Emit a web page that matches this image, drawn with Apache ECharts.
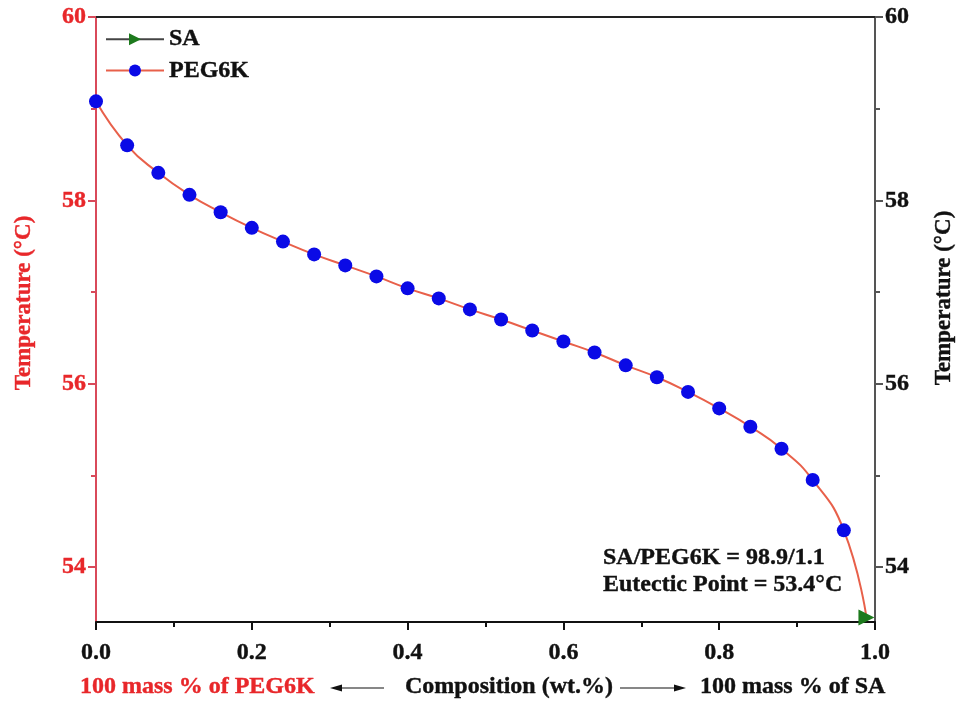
<!DOCTYPE html>
<html>
<head>
<meta charset="utf-8">
<script src="https://cdn.jsdelivr.net/npm/echarts@6/dist/echarts.min.js"></script>
<style>
html,body{margin:0;padding:0;background:#fff;}
#chart{width:963px;height:704px;}
</style>
</head>
<body>
<div id="chart"></div>
<script>
// ---- data ----
const compX = [0, 0.04, 0.08, 0.12, 0.16, 0.20, 0.24, 0.28, 0.32, 0.36, 0.40, 0.44, 0.48,
               0.52, 0.56, 0.60, 0.64, 0.68, 0.72, 0.76, 0.80, 0.84, 0.88, 0.92, 0.96];
const pegTemp = [59.08, 58.60, 58.30, 58.06, 57.87, 57.70, 57.55, 57.41, 57.29, 57.17, 57.04, 56.93, 56.81,
                 56.70, 56.58, 56.46, 56.34, 56.20, 56.07, 55.91, 55.73, 55.53, 55.29, 54.95, 54.40];
const eutecticX = [0.989];
const eutecticT = [53.45];
const yTicks = [54, 56, 58, 60];
const yMinorTicks = [55, 57, 59];
const seriesNames = ['SA', 'PEG6K'];
const annotationLines = ['SA/PEG6K = 98.9/1.1', 'Eutectic Point = 53.4°C'];

const FONT = '"Liberation Serif", "Times New Roman", serif';
const RED = '#e8272a';
const AXRED = '#d94a5a';

const pegData = compX.map((x, i) => [x, pegTemp[i]]);
pegData.push({ value: [eutecticX[0], eutecticT[0]], symbol: 'none' });
const saData = eutecticX.map((x, i) => [x, eutecticT[i]]);

const chart = echarts.init(document.getElementById('chart'), null, { renderer: 'canvas' });

const yBase = { type: 'value', min: 53.4, max: 60, splitLine: { show: false } };
const lbl = (color) => ({ fontFamily: FONT, fontWeight: 'bold', fontSize: 24, color: color,
                          textBorderColor: color, textBorderWidth: 0.4 });

chart.setOption({
  backgroundColor: '#fff',
  animation: false,
  grid: { left: 96, right: 88, top: 17, bottom: 82, containLabel: false },
  legend: {
    data: seriesNames,
    orient: 'vertical',
    left: 100, top: 22,
    itemWidth: 58, itemHeight: 15, itemGap: 7,
    textStyle: lbl('#111')
  },
  xAxis: [
    {
      type: 'value', min: 0, max: 1, interval: 0.2, position: 'bottom',
      axisLine: { show: true, onZero: false, lineStyle: { color: '#111', width: 2 } },
      axisTick: { show: true, inside: false, length: 8, lineStyle: { color: '#111', width: 2 } },
      minorTick: { show: true, splitNumber: 2, length: 5, lineStyle: { color: '#111', width: 2 } },
      axisLabel: Object.assign({ margin: 19, formatter: v => v.toFixed(1) }, lbl('#111')),
      splitLine: { show: false }
    },
    {
      type: 'value', min: 0, max: 1, position: 'top',
      axisLine: { show: true, onZero: false, lineStyle: { color: '#222', width: 2 } },
      axisTick: { show: false }, axisLabel: { show: false }, splitLine: { show: false }
    }
  ],
  yAxis: [
    Object.assign({}, yBase, {
      position: 'left',
      axisLine: { show: true, onZero: false, lineStyle: { color: AXRED, width: 2 } },
      axisTick: { show: true, length: 8, customValues: yTicks, lineStyle: { color: AXRED, width: 2 } },
      axisLabel: Object.assign({ margin: 10, customValues: yTicks }, lbl(RED))
    }),
    Object.assign({}, yBase, {
      position: 'right',
      axisLine: { show: true, onZero: false, lineStyle: { color: '#555', width: 2 } },
      axisTick: { show: true, length: 8, customValues: yTicks, lineStyle: { color: '#555', width: 2 } },
      axisLabel: Object.assign({ margin: 10, customValues: yTicks }, lbl('#111'))
    }),
    Object.assign({}, yBase, {
      position: 'left', offset: 0,
      axisLine: { show: false, onZero: false },
      axisTick: { show: true, length: 5, customValues: yMinorTicks, lineStyle: { color: AXRED, width: 2 } },
      axisLabel: { show: false }
    }),
    Object.assign({}, yBase, {
      position: 'right', offset: 0,
      axisLine: { show: false, onZero: false },
      axisTick: { show: true, length: 5, customValues: yMinorTicks, lineStyle: { color: '#555', width: 2 } },
      axisLabel: { show: false }
    })
  ],
  series: [
    {
      name: seriesNames[0], type: 'line', xAxisIndex: 0, yAxisIndex: 0,
      data: saData,
      symbol: 'triangle', symbolSize: 16, symbolRotate: -90,
      itemStyle: { color: '#1d7a1d' },
      lineStyle: { color: '#444', width: 2 },
      z: 5
    },
    {
      name: seriesNames[1], type: 'line', xAxisIndex: 0, yAxisIndex: 0,
      data: pegData,
      smooth: 0.5,
      symbol: 'circle', symbolSize: 14, showAllSymbol: true,
      itemStyle: { color: '#0a0ae6' },
      lineStyle: { color: '#e8604a', width: 2 },
      z: 4
    }
  ],
  graphic: [
    { type: 'text', x: 24, y: 303, rotation: Math.PI / 2,
      style: { text: 'Temperature (°C)', font: 'bold 23px ' + FONT, fill: RED, stroke: RED, lineWidth: 0.4, align: 'center', verticalAlign: 'middle' } },
    { type: 'text', x: 944, y: 298, rotation: Math.PI / 2,
      style: { text: 'Temperature (°C)', font: 'bold 23px ' + FONT, fill: '#111', stroke: '#111', lineWidth: 0.4, align: 'center', verticalAlign: 'middle' } },
    { type: 'text', x: 603, y: 558,
      style: { text: annotationLines[0], font: 'bold 24px ' + FONT, fill: '#111', stroke: '#111', lineWidth: 0.4, align: 'left', verticalAlign: 'middle' } },
    { type: 'text', x: 603, y: 585,
      style: { text: annotationLines[1], font: 'bold 24px ' + FONT, fill: '#111', stroke: '#111', lineWidth: 0.4, align: 'left', verticalAlign: 'middle' } },
    { type: 'text', x: 80, y: 687,
      style: { text: '100 mass % of PEG6K', font: 'bold 24px ' + FONT, fill: RED, stroke: RED, lineWidth: 0.4, align: 'left', verticalAlign: 'middle' } },
    { type: 'text', x: 405, y: 687,
      style: { text: 'Composition (wt.%)', font: 'bold 24px ' + FONT, fill: '#111', stroke: '#111', lineWidth: 0.4, align: 'left', verticalAlign: 'middle' } },
    { type: 'text', x: 700, y: 687,
      style: { text: '100 mass % of SA', font: 'bold 24px ' + FONT, fill: '#111', stroke: '#111', lineWidth: 0.4, align: 'left', verticalAlign: 'middle' } },
    // left arrow
    { type: 'line', shape: { x1: 340, y1: 688, x2: 384, y2: 688 }, style: { stroke: '#111', lineWidth: 1.2 } },
    { type: 'polygon', shape: { points: [[330, 688], [342, 684.5], [342, 691.5]] }, style: { fill: '#111' } },
    // right arrow
    { type: 'line', shape: { x1: 620, y1: 688, x2: 675, y2: 688 }, style: { stroke: '#111', lineWidth: 1.2 } },
    { type: 'polygon', shape: { points: [[686, 688], [674, 684.5], [674, 691.5]] }, style: { fill: '#111' } }
  ]
});
</script>
</body>
</html>
